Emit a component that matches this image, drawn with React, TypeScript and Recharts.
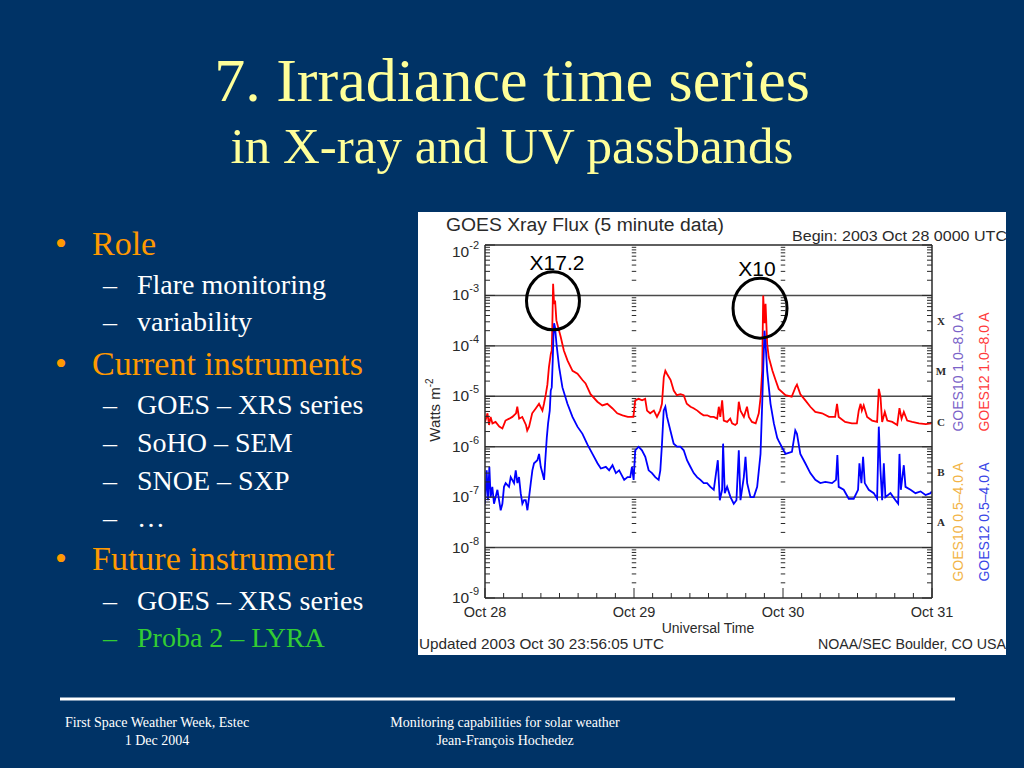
import React from 'react';
import { ComposedChart, Line, XAxis, YAxis, ReferenceLine, ReferenceDot } from 'recharts';

// ---------- data (hours since 2003 Oct 28 00:00 UTC, flux in W m^-2) ----------
const longHours = [
  0, 0.4, 0.65, 0.9, 1.2, 1.7, 2.3, 2.8, 3.3, 3.9, 4.4, 5.0, 5.2, 5.5, 6.0, 6.6, 6.8, 7.1, 7.6, 8.2,
  8.7, 9.25, 9.5, 9.8, 10.05, 10.3, 10.6, 10.75, 10.86, 10.97, 11.13, 11.29, 11.5, 11.8, 12.2, 12.7, 13.3, 14.1, 14.9, 15.7,
  16.2, 17.0, 18.1, 18.9, 19.7, 20.5, 21.3, 22.15, 23.0, 23.9, 24.2, 24.75, 25.3, 25.8, 26.1, 26.6, 27.2, 27.7, 28.2, 28.5,
  28.8, 29.05, 29.3, 29.9, 30.4, 30.9, 31.5, 32.0, 32.5, 33.1, 33.6, 34.2, 34.7, 35.2, 35.8, 36.3, 36.85, 37.4, 37.66, 37.9,
  38.2, 38.46, 39.0, 39.5, 39.8, 40.3, 40.6, 40.88, 41.15, 41.7, 42.2, 42.5, 43.0, 43.6, 44.1, 44.4, 44.65, 44.81, 45.02, 45.19,
  45.45, 45.7, 46.3, 46.8, 47.3, 48.4, 49.4, 50.0, 50.25, 50.8, 51.6, 52.4, 53.2, 54.3, 55.4, 56.4, 56.7, 56.97, 58.0, 59.1,
  59.9, 60.2, 60.5, 60.7, 61.0, 61.55, 62.35, 63.16, 63.43, 63.7, 63.97, 64.4, 64.8, 65.6, 66.4, 66.76, 67.1, 67.46, 68.0, 68.8,
  69.9, 71.0, 71.8, 71.95,
];
const longFlux = [
  3.1e-6, 4.6e-6, 2.7e-6, 3.9e-6, 2.9e-6, 3.1e-6, 2.5e-6, 2.3e-6, 3.3e-6, 3.6e-6, 3.9e-6, 4.6e-6, 6.2e-6, 3.6e-6, 3.9e-6, 2.7e-6, 2.1e-6, 2.5e-6, 4.6e-6, 5.8e-6,
  7.1e-6, 5.2e-6, 7.1e-6, 1.1e-5, 1.7e-5, 3.8e-5, 6.9e-5, 8.1e-5, 3.2e-4, 1.7e-3, 6.8e-4, 7.9e-4, 3.2e-4, 2.3e-4, 1.5e-4, 8.1e-5, 5.1e-5, 3.2e-5, 2.8e-5, 2.1e-5,
  1.8e-5, 1.1e-5, 7.8e-6, 6.6e-6, 7.1e-6, 5.8e-6, 4.6e-6, 4.2e-6, 3.9e-6, 3.9e-6, 8.3e-6, 8.9e-6, 8.3e-6, 8.9e-6, 5.2e-6, 4.6e-6, 5.2e-6, 3.9e-6, 5.2e-6, 7.1e-6,
  2.4e-5, 3.2e-5, 2.8e-5, 2.1e-5, 1.3e-5, 1.05e-5, 1.1e-5, 1.05e-5, 7.1e-6, 6.2e-6, 5.8e-6, 5.2e-6, 4.6e-6, 4.2e-6, 4.2e-6, 3.9e-6, 3.9e-6, 3.6e-6, 6.2e-6, 3.9e-6,
  8.3e-6, 3.3e-6, 3.1e-6, 3.6e-6, 2.9e-6, 2.7e-6, 2.9e-6, 7.8e-6, 5.2e-6, 3.9e-6, 6.2e-6, 3.9e-6, 3.1e-6, 2.9e-6, 4.6e-6, 9.8e-6, 3.2e-5, 1.0e-3, 2.8e-4, 6.8e-4,
  1.1e-4, 6.0e-5, 3.2e-5, 2.1e-5, 1.4e-5, 1.05e-5, 9.8e-6, 1.5e-5, 1.7e-5, 1.1e-5, 8.3e-6, 6.2e-6, 4.9e-6, 4.6e-6, 3.9e-6, 3.9e-6, 7.1e-6, 3.9e-6, 3.1e-6, 2.9e-6,
  2.9e-6, 5.2e-6, 7.1e-6, 5.2e-6, 6.6e-6, 3.9e-6, 3.3e-6, 3.1e-6, 1.4e-5, 9.8e-6, 3.1e-6, 4.9e-6, 3.3e-6, 3.1e-6, 2.7e-6, 5.8e-6, 3.6e-6, 4.9e-6, 3.3e-6, 3.1e-6,
  2.9e-6, 2.8e-6, 2.9e-6, 3.1e-6,
];

const shortHours = [
  0, 0.27, 0.48, 0.7, 0.91, 1.18, 1.45, 2.0, 2.26, 2.53, 2.8, 3.06, 3.33, 3.87, 4.14, 4.68, 4.95, 5.22, 5.48, 5.75,
  6.02, 6.29, 6.56, 6.83, 7.1, 7.37, 7.63, 7.9, 8.44, 8.71, 8.98, 9.25, 9.52, 9.68, 9.95, 10.16, 10.43, 10.59, 10.75, 10.91,
  11.02, 11.13, 11.29, 11.51, 11.94, 12.47, 13.28, 14.09, 14.89, 15.7, 16.51, 17.31, 18.12, 18.66, 19.46, 20.0, 20.54, 21.08, 21.61, 22.42,
  22.96, 23.4, 23.67, 23.94, 24.2, 24.75, 25.28, 25.82, 26.36, 26.9, 27.43, 27.97, 28.24, 28.51, 28.78, 29.05, 29.32, 29.86, 30.39, 30.93,
  31.47, 32.01, 32.54, 33.08, 33.62, 34.16, 34.7, 35.23, 35.77, 36.31, 36.85, 37.5, 37.82, 38.19, 38.35, 38.62, 39.0, 39.54, 40.07, 40.5,
  40.88, 41.15, 41.69, 41.96, 42.23, 42.76, 43.3, 43.84, 44.38, 44.65, 44.81, 45.02, 45.19, 45.45, 45.99, 46.53, 47.07, 47.3, 48.4, 49.44,
  49.98, 50.25, 50.79, 51.59, 52.4, 53.21, 54.01, 54.82, 55.9, 56.54, 56.76, 56.97, 57.78, 58.59, 59.39, 60.09, 60.31, 60.63, 60.9, 61.17,
  61.81, 62.62, 63.16, 63.43, 63.7, 63.97, 64.24, 64.5, 65.31, 66.12, 66.55, 66.76, 66.98, 67.46, 67.73, 68.54, 69.34, 70.15, 70.96, 71.76,
  71.95,
];
const shortFlux = [
  7.4e-8, 3.4e-7, 8.7e-8, 4.0e-7, 1.0e-7, 1.6e-7, 7.4e-8, 1.4e-7, 8.7e-8, 5.5e-8, 7.4e-8, 1.6e-7, 1.9e-7, 1.6e-7, 2.5e-7, 1.9e-7, 3.4e-7, 1.9e-7, 2.5e-7, 1.2e-7,
  7.4e-8, 8.7e-8, 8.7e-8, 5.5e-8, 1.0e-7, 1.9e-7, 3.4e-7, 4.7e-7, 5.4e-7, 7.2e-7, 4.0e-7, 3.0e-7, 2.2e-7, 4.7e-7, 1.5e-6, 2.9e-6, 5.2e-6, 1.3e-5, 1.5e-5, 5.1e-5,
  1.5e-4, 2.8e-4, 2.3e-4, 1.1e-4, 3.8e-5, 1.5e-5, 7.1e-6, 3.9e-6, 2.5e-6, 1.8e-6, 1.1e-6, 7.2e-7, 4.7e-7, 3.7e-7, 4.0e-7, 3.4e-7, 4.3e-7, 3.0e-7, 3.4e-7, 2.2e-7,
  2.5e-7, 2.5e-7, 4.0e-7, 2.2e-7, 8.5e-7, 1.0e-6, 8.5e-7, 6.3e-7, 3.4e-7, 3.0e-7, 2.5e-7, 2.2e-7, 3.4e-7, 1.15e-6, 5.2e-6, 6.2e-6, 3.9e-6, 2.1e-6, 1.15e-6, 1.0e-6,
  1.0e-6, 8.5e-7, 5.4e-7, 4.0e-7, 3.0e-7, 2.5e-7, 2.2e-7, 1.9e-7, 1.9e-7, 1.6e-7, 1.4e-7, 5.4e-7, 8.7e-8, 1.4e-7, 1.15e-6, 1.2e-7, 1.6e-7, 1.0e-7, 7.4e-8, 8.7e-8,
  8.5e-7, 8.7e-8, 2.5e-7, 6.3e-7, 1.9e-7, 1.0e-7, 1.0e-7, 1.6e-7, 7.2e-7, 7.1e-6, 3.2e-5, 2.0e-4, 1.1e-4, 3.2e-5, 7.1e-6, 2.9e-6, 1.5e-6, 1.3e-6, 7.2e-7, 7.9e-7,
  2.1e-6, 1.8e-6, 7.2e-7, 4.7e-7, 3.0e-7, 2.2e-7, 1.9e-7, 2.0e-7, 1.9e-7, 2.2e-7, 6.8e-7, 1.6e-7, 1.4e-7, 9.3e-8, 9.3e-8, 1.4e-7, 4.7e-7, 1.9e-7, 6.3e-7, 1.9e-7,
  1.4e-7, 1.2e-7, 9.3e-8, 2.5e-6, 3.4e-7, 8.7e-8, 4.7e-7, 1.0e-7, 1.2e-7, 8.7e-8, 7.4e-8, 7.2e-7, 1.4e-7, 4.3e-7, 1.6e-7, 1.4e-7, 1.2e-7, 1.3e-7, 1.1e-7, 1.2e-7,
  1.3e-7,
];

// ---------- axes / annotations ----------
const dayLabels = ['Oct 28', 'Oct 29', 'Oct 30', 'Oct 31'];
const timeTicks = [0, 3, 6, 9, 12, 15, 18, 21, 24, 27, 30, 33, 36, 39, 42, 45, 48, 51, 54, 57, 60, 63, 66, 69, 72];
const dayBoundaries = [24, 48];
const decades = [1e-9, 1e-8, 1e-7, 1e-6, 1e-5, 1e-4, 1e-3, 1e-2];
const minorMultipliers = [2, 3, 4, 5, 6, 7, 8, 9];
const gridLevels = [1e-3, 1e-4, 1e-5, 1e-6, 1e-7, 1e-8];
const classLabels = ['X', 'M', 'C', 'B', 'A'];
const classCenters = [3.162e-4, 3.162e-5, 3.162e-6, 3.162e-7, 3.162e-8];
const flareNames = ['X17.2', 'X10'];
const flareHours = [10.95, 44.3];
const flareCircleFlux = [7.8e-4, 5.6e-4];

const legendTexts = [
  { text: 'GOES10 1.0\u20138.0 A', color: '#7a62c8', x: 963, y: 372 },
  { text: 'GOES12 1.0\u20138.0 A', color: '#ff3a3a', x: 989, y: 372 },
  { text: 'GOES10 0.5\u20134.0 A', color: '#f2b446', x: 963, y: 522 },
  { text: 'GOES12 0.5\u20134.0 A', color: '#3a46e6', x: 989, y: 522 },
];

const bullets = [
  { lvl: 0, text: 'Role', y: 255, color: '#FF9900' },
  { lvl: 1, text: 'Flare monitoring', y: 294, color: '#FFFFFF' },
  { lvl: 1, text: 'variability', y: 331, color: '#FFFFFF' },
  { lvl: 0, text: 'Current instruments', y: 375, color: '#FF9900' },
  { lvl: 1, text: 'GOES \u2013 XRS series', y: 414, color: '#FFFFFF' },
  { lvl: 1, text: 'SoHO \u2013 SEM', y: 452, color: '#FFFFFF' },
  { lvl: 1, text: 'SNOE \u2013 SXP', y: 490, color: '#FFFFFF' },
  { lvl: 1, text: '\u2026', y: 527, color: '#FFFFFF' },
  { lvl: 0, text: 'Future instrument', y: 570, color: '#FF9900' },
  { lvl: 1, text: 'GOES \u2013 XRS series', y: 610, color: '#FFFFFF' },
  { lvl: 1, text: 'Proba 2 \u2013 LYRA', y: 647, color: '#33CC33' },
];

const minorTicks = decades.slice(0, -1).flatMap((d) => minorMultipliers.map((m) => m * d));
const leftTicks = [...decades, ...minorTicks].sort((a, b) => a - b);
const rightTicks = [...leftTicks, ...classCenters].sort((a, b) => a - b);

const longData = longHours.map((h, i) => ({ h, f: longFlux[i] }));
const shortData = shortHours.map((h, i) => ({ h, f: shortFlux[i] }));

const AX = '#2a2a2a';
const SANS = '"Liberation Sans", Arial, sans-serif';
const SERIF = '"Liberation Serif", "Times New Roman", serif';

const isDecade = (v: number) => decades.some((d) => Math.abs(d - v) / d < 1e-6);

const LeftTick = (props: any) => {
  const { x, y, payload } = props;
  const v = payload.value;
  const major = isDecade(v);
  const exp = Math.round(Math.log10(v));
  const shift = exp === -2 ? 7 : 0;
  return (
    <g>
      <line x1={x} x2={x + (major ? 10 : 5)} y1={y} y2={y} stroke={AX} strokeWidth={1} />
      {major && (
        <text x={x - 6} y={y + 5 + shift} textAnchor="end" fontSize={15.5} fill={AX} fontFamily={SANS}>
          10<tspan dy={-8} fontSize={11}>{exp}</tspan>
        </text>
      )}
    </g>
  );
};

const RightTick = (props: any) => {
  const { x, y, payload } = props;
  const v = payload.value;
  const ci = classCenters.findIndex((c) => Math.abs(c - v) / c < 1e-6);
  if (ci >= 0) {
    return (
      <text x={x + 9} y={y + 4} textAnchor="middle" fontSize={11} fontWeight="bold" fill={AX} fontFamily={SERIF}>
        {classLabels[ci]}
      </text>
    );
  }
  const major = isDecade(v);
  return <line x1={x} x2={x - (major ? 10 : 5)} y1={y} y2={y} stroke={AX} strokeWidth={1} />;
};

const BottomTick = (props: any) => {
  const { x, y, payload } = props;
  const v = payload.value;
  const day = v % 24 === 0;
  return (
    <g>
      <line x1={x} x2={x} y1={y} y2={y - (day ? 10 : 5)} stroke={AX} strokeWidth={1} />
      {day && (
        <text x={x} y={y + 19} textAnchor="middle" fontSize={14.5} fill={AX} fontFamily={SANS}>
          {dayLabels[v / 24]}
        </text>
      )}
    </g>
  );
};

const TopTick = (props: any) => {
  const { x, y, payload } = props;
  const day = payload.value % 24 === 0;
  return <line x1={x} x2={x} y1={y} y2={y + (day ? 10 : 5)} stroke={AX} strokeWidth={1} />;
};

const FlareMark = (name: string, rx: number, ry: number, tdx: number, tdy: number) => (p: any) => (
  <g>
    <ellipse cx={p.cx} cy={p.cy} rx={rx} ry={ry} fill="none" stroke="#000" strokeWidth={3} />
    <text x={p.cx + tdx} y={p.cy + tdy} textAnchor="middle" fontSize={21} fill="#000" fontFamily={SANS}>
      {name}
    </text>
  </g>
);

const flareShapes = [FlareMark(flareNames[0], 26.5, 29, 4, -31), FlareMark(flareNames[1], 27, 30, -3, -32)];

export default function App() {
  return (
    <div style={{ position: 'absolute', left: 0, top: 0, width: 1024, height: 768, background: '#003366', overflow: 'hidden' }}>
      <svg width={1024} height={768} style={{ position: 'absolute', left: 0, top: 0 }}>
        <text x={512} y={101} textAnchor="middle" fontSize={62} fill="#FFFF99" fontFamily={SERIF}>
          7. Irradiance time series
        </text>
        <text x={512} y={163} textAnchor="middle" fontSize={51} fill="#FFFF99" fontFamily={SERIF}>
          in X-ray and UV passbands
        </text>
        {bullets.map((b, i) =>
          b.lvl === 0 ? (
            <g key={i}>
              <text x={55} y={b.y} fontSize={34} fill={b.color} fontFamily={SERIF}>{'\u2022'}</text>
              <text x={92} y={b.y} fontSize={34} fill={b.color} fontFamily={SERIF}>{b.text}</text>
            </g>
          ) : (
            <g key={i}>
              <text x={103} y={b.y} fontSize={28} fill={b.color} fontFamily={SERIF}>{'\u2013'}</text>
              <text x={137} y={b.y} fontSize={28} fill={b.color} fontFamily={SERIF}>{b.text}</text>
            </g>
          )
        )}
        <line x1={60} x2={955} y1={699} y2={699} stroke="#FFFFFF" strokeWidth={3} />
        <text x={157} y={727} textAnchor="middle" fontSize={14} fill="#FFFFFF" fontFamily={SERIF}>First Space Weather Week, Estec</text>
        <text x={157} y={745} textAnchor="middle" fontSize={14} fill="#FFFFFF" fontFamily={SERIF}>1 Dec 2004</text>
        <text x={505} y={727} textAnchor="middle" fontSize={14} fill="#FFFFFF" fontFamily={SERIF}>Monitoring capabilities for solar weather</text>
        <text x={505} y={745} textAnchor="middle" fontSize={14} fill="#FFFFFF" fontFamily={SERIF}>Jean-François Hochedez</text>
      </svg>

      <div style={{ position: 'absolute', left: 418, top: 212, width: 588, height: 443, background: '#FFFFFF' }}>
        <ComposedChart width={588} height={443} margin={{ top: 0, right: 0, bottom: 0, left: 0 }}>
          <XAxis
            dataKey="h"
            type="number"
            domain={[0, 72]}
            ticks={timeTicks}
            interval={0}
            height={57}
            tickSize={0}
            tickMargin={0}
            tick={<BottomTick />}
            axisLine={{ stroke: AX, strokeWidth: 1.5 }}
            allowDataOverflow
          />
          <XAxis
            xAxisId="top"
            orientation="top"
            type="number"
            domain={[0, 72]}
            ticks={timeTicks}
            interval={0}
            height={33}
            tickSize={0}
            tickMargin={0}
            tick={<TopTick />}
            axisLine={{ stroke: AX, strokeWidth: 1.5 }}
            allowDataOverflow
          />
          <YAxis
            type="number"
            scale="log"
            domain={[1e-9, 1e-2]}
            ticks={leftTicks}
            interval={0}
            width={67}
            tickSize={0}
            tickMargin={0}
            tick={<LeftTick />}
            axisLine={{ stroke: AX, strokeWidth: 1.5 }}
            allowDataOverflow
          />
          <YAxis
            yAxisId="r"
            orientation="right"
            type="number"
            scale="log"
            domain={[1e-9, 1e-2]}
            ticks={rightTicks}
            interval={0}
            width={74}
            tickSize={0}
            tickMargin={0}
            tick={<RightTick />}
            axisLine={{ stroke: AX, strokeWidth: 1.5 }}
            allowDataOverflow
          />
          {gridLevels.map((g) => (
            <ReferenceLine key={'g' + g} y={g} stroke="#4a4a4a" strokeWidth={1.4} />
          ))}
          {dayBoundaries.flatMap((b) =>
            minorTicks.map((m) => (
              <ReferenceLine
                key={'c' + b + '-' + m}
                segment={[{ x: b - 0.36, y: m }, { x: b + 0.36, y: m }]}
                stroke={AX}
                strokeWidth={1}
              />
            ))
          )}
          <Line data={longData} dataKey="f" type="linear" stroke="#ff0000" strokeWidth={1.8} dot={false} isAnimationActive={false} />
          <Line data={shortData} dataKey="f" type="linear" stroke="#0000ff" strokeWidth={1.8} dot={false} isAnimationActive={false} />
          {flareNames.map((n, i) => (
            <ReferenceDot key={n} x={flareHours[i]} y={flareCircleFlux[i]} r={28} shape={flareShapes[i]} />
          ))}
        </ComposedChart>
      </div>

      <svg width={1024} height={768} style={{ position: 'absolute', left: 0, top: 0, pointerEvents: 'none' }}>
        <text x={446} y={231} fontSize={18} fill={AX} fontFamily={SANS} textLength={278} lengthAdjust="spacingAndGlyphs">
          GOES Xray Flux (5 minute data)
        </text>
        <text x={792} y={241} fontSize={15} fill={AX} fontFamily={SANS} textLength={215} lengthAdjust="spacingAndGlyphs">
          Begin:  2003 Oct 28 0000 UTC
        </text>
        <text transform="translate(440,410) rotate(-90)" textAnchor="middle" fontSize={15} fill={AX} fontFamily={SANS}>
          Watts m<tspan dy={-7} fontSize={10}>-2</tspan>
        </text>
        <text x={708} y={633} textAnchor="middle" fontSize={14} fill={AX} fontFamily={SANS}>Universal Time</text>
        <text x={419} y={649} fontSize={15} fill={AX} fontFamily={SANS} textLength={245} lengthAdjust="spacingAndGlyphs">
          Updated 2003 Oct 30 23:56:05 UTC
        </text>
        <text x={818} y={649} fontSize={14.5} fill={AX} fontFamily={SANS} textLength={188} lengthAdjust="spacingAndGlyphs">
          NOAA/SEC Boulder, CO USA
        </text>
        {legendTexts.map((l) => (
          <text
            key={l.text + l.x}
            transform={`translate(${l.x},${l.y}) rotate(-90)`}
            textAnchor="middle"
            fontSize={14}
            fill={l.color}
            fontFamily={SANS}
          >
            {l.text}
          </text>
        ))}
      </svg>
    </div>
  );
}
